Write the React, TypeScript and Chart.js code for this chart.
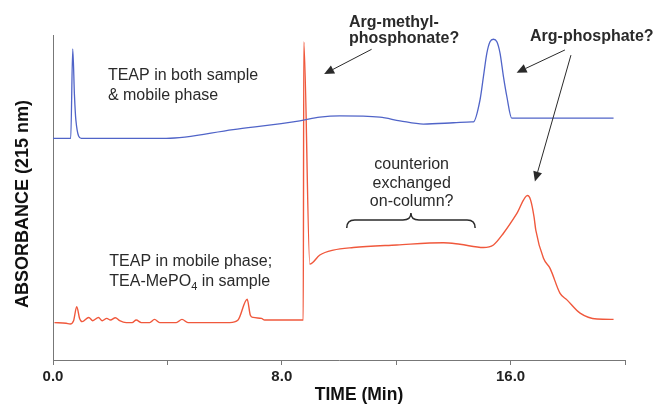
import { useEffect, useRef } from "react";
import { Chart, registerables } from "chart.js";

Chart.register(...registerables);

// Retention time (min) and absorbance (arbitrary units) for each chromatogram trace
const bothTime = [
  0, 0.62, 0.69, 0.75, 0.8, 0.99, 3.96, 6.3, 8.63, 9.33, 10.03, 11.43, 12.13, 12.95, 14.0,
  14.64, 14.7, 14.93, 15.05, 15.17, 15.28, 15.4, 15.52, 15.63, 15.75, 15.87, 16.04, 19.6,
];
const bothAbs = [
  68.2, 68.2, 95.7, 81.5, 73.8, 68.2, 68.2, 70.9, 73.6, 74.7, 75.1, 74.7, 73.6, 72.6, 73.0,
  73.3, 73.3, 80.0, 87.2, 94.4, 97.9, 98.7, 97.9, 94.4, 87.2, 81.0, 74.4, 74.4,
];

const mobileTime = [
  0.05, 0.46, 0.6, 0.72, 0.83, 0.93, 1.02, 1.25, 1.39, 1.59, 1.72, 1.88, 2.01, 2.18, 2.33,
  2.56, 2.77, 2.91, 3.09, 3.38, 3.55, 3.73, 4.31, 4.51, 4.72, 6.18, 6.47, 6.79, 6.9, 7.0,
  7.29, 7.4, 8.75, 8.77, 8.98, 9.33, 9.8, 10.5, 12.02, 13.65, 14.23, 15.05, 15.4, 15.75,
  16.22, 16.59, 16.7, 16.82, 16.88, 17.15, 17.38, 17.73, 17.97, 18.43, 19.02, 19.6,
];
const mobileAbs = [
  11.5, 11.3, 11.1, 12.1, 16.4, 12.8, 11.8, 13.1, 12.1, 13.1, 12.1, 12.8, 12.3, 13.0, 12.1,
  11.5, 11.5, 12.3, 11.5, 11.5, 12.5, 11.5, 11.5, 12.5, 11.5, 11.5, 12.3, 18.7, 13.8, 13.1,
  12.8, 12.3, 12.3, 97.9, 29.5, 32.3, 33.8, 34.6, 35.4, 36.1, 35.6, 34.6, 35.4, 39.0,
  45.1, 50.6, 49.2, 44.0, 40.0, 31.3, 28.2, 20.5, 18.5, 14.4, 12.6, 12.5,
];

const xTickValues = [0, 4, 8, 12, 16, 20];
const xTickLabels = ["0.0", "", "8.0", "", "16.0", ""];

const FONT = "'Liberation Sans', Arial, Helvetica, sans-serif";
const INK = "#222";

type Pt = { t: number; a: number };

// Annotation anchors, in (time, absorbance) units
const noteBoth = { at: { t: 1.92, a: 87.4 }, lines: ["TEAP in both sample", "& mobile phase"] };
const noteMobile = { at: { t: 1.97, a: 30.2 } };
const noteExchange = { at: { t: 12.54, a: 60.0 }, lines: ["counterion", "exchanged", "on-column?"] };
const braceSpan = { from: 10.27, to: 14.76, a: 43.1 };
const noteMethyl = { at: { t: 10.35, a: 103.8 }, lines: ["Arg-methyl-", "phosphonate?"] };
const notePhosphate = { at: { t: 16.68, a: 99.5 }, text: "Arg-phosphate?" };
const arrows: { from: Pt; to: Pt }[] = [
  { from: { t: 11.14, a: 95.6 }, to: { t: 9.48, a: 88.0 } },
  { from: { t: 17.9, a: 95.4 }, to: { t: 16.21, a: 88.4 } },
  { from: { t: 18.11, a: 93.8 }, to: { t: 16.85, a: 54.9 } },
];

const annotationPlugin = {
  id: "chromNotes",
  afterDraw(chart: any) {
    const { ctx } = chart;
    const xs = chart.scales.x;
    const ys = chart.scales.y;
    const px = (p: Pt) => [xs.getPixelForValue(p.t), ys.getPixelForValue(p.a)];

    ctx.save();
    ctx.fillStyle = "#2a2a2a";
    ctx.strokeStyle = "#2a2a2a";
    ctx.textBaseline = "middle";

    // regular notes
    ctx.font = `16px ${FONT}`;
    ctx.textAlign = "left";
    let [x, y] = px(noteBoth.at);
    noteBoth.lines.forEach((l, i) => ctx.fillText(l, x, y + i * 19.7));

    [x, y] = px(noteMobile.at);
    ctx.fillText("TEAP in mobile phase;", x, y);
    const y2 = y + 20;
    const head = "TEA-MePO";
    ctx.fillText(head, x, y2);
    let cx = x + ctx.measureText(head).width;
    ctx.font = `11px ${FONT}`;
    ctx.fillText("4", cx, y2 + 5);
    cx += ctx.measureText("4").width;
    ctx.font = `16px ${FONT}`;
    ctx.fillText(" in sample", cx, y2);

    ctx.textAlign = "center";
    [x, y] = px(noteExchange.at);
    noteExchange.lines.forEach((l, i) => ctx.fillText(l, x, y + i * 18.3));

    // curly brace over the plateau
    const bx1 = xs.getPixelForValue(braceSpan.from);
    const bx2 = xs.getPixelForValue(braceSpan.to);
    const by = ys.getPixelForValue(braceSpan.a);
    const bm = (bx1 + bx2) / 2;
    ctx.lineWidth = 1.5;
    ctx.beginPath();
    ctx.moveTo(bx1, by + 8);
    ctx.quadraticCurveTo(bx1, by, bx1 + 8, by);
    ctx.lineTo(bm - 8, by);
    ctx.quadraticCurveTo(bm, by, bm, by - 7);
    ctx.quadraticCurveTo(bm, by, bm + 8, by);
    ctx.lineTo(bx2 - 8, by);
    ctx.quadraticCurveTo(bx2, by, bx2, by + 8);
    ctx.stroke();

    // bold peak labels
    ctx.font = `bold 16px ${FONT}`;
    ctx.textAlign = "left";
    [x, y] = px(noteMethyl.at);
    noteMethyl.lines.forEach((l, i) => ctx.fillText(l, x, y + i * 16.3));
    [x, y] = px(notePhosphate.at);
    ctx.fillText(notePhosphate.text, x, y);

    // arrows
    ctx.lineWidth = 1;
    arrows.forEach(({ from, to }) => {
      const [x1, y1] = px(from);
      const [x2, y2b] = px(to);
      const ang = Math.atan2(y2b - y1, x2 - x1);
      const len = 10;
      const hw = 4.5;
      const bxp = x2 - len * Math.cos(ang);
      const byp = y2b - len * Math.sin(ang);
      ctx.beginPath();
      ctx.moveTo(x1, y1);
      ctx.lineTo(bxp, byp);
      ctx.stroke();
      ctx.beginPath();
      ctx.moveTo(x2, y2b);
      ctx.lineTo(bxp + hw * Math.sin(ang), byp - hw * Math.cos(ang));
      ctx.lineTo(bxp - hw * Math.sin(ang), byp + hw * Math.cos(ang));
      ctx.closePath();
      ctx.fill();
    });

    // axis titles
    ctx.fillStyle = "#111";
    ctx.textAlign = "center";
    ctx.font = `bold 17.5px ${FONT}`;
    ctx.fillText("TIME (Min)", 359, 395);
    ctx.save();
    ctx.translate(23, 204);
    ctx.rotate(-Math.PI / 2);
    ctx.font = `bold 18px ${FONT}`;
    ctx.fillText("ABSORBANCE (215 nm)", 0, 0);
    ctx.restore();

    ctx.restore();
  },
};

export default function App() {
  const canvasRef = useRef<HTMLCanvasElement | null>(null);

  useEffect(() => {
    const canvas = canvasRef.current;
    if (!canvas) return;
    const chart = new Chart(canvas, {
      type: "line",
      data: {
        datasets: [
          {
            label: "TEAP in both sample & mobile phase",
            data: bothTime.map((t, i) => ({ x: t, y: bothAbs[i] })),
            borderColor: "#5064c8",
            borderWidth: 1.3,
            pointRadius: 0,
            cubicInterpolationMode: "monotone",
          },
          {
            label: "TEAP in mobile phase; TEA-MePO4 in sample",
            data: mobileTime.map((t, i) => ({ x: t, y: mobileAbs[i] })),
            borderColor: "#f0583c",
            borderWidth: 1.4,
            pointRadius: 0,
            cubicInterpolationMode: "monotone",
          },
        ],
      },
      options: {
        responsive: false,
        animation: false,
        events: [],
        layout: { padding: { top: 35, right: 30, left: 0, bottom: 0 } },
        plugins: { legend: { display: false }, tooltip: { enabled: false }, title: { display: false } },
        scales: {
          x: {
            type: "linear",
            min: 0,
            max: 20,
            afterFit: (s: any) => {
              s.height = 46;
            },
            afterBuildTicks: (s: any) => {
              s.ticks = xTickValues.map((v) => ({ value: v }));
            },
            ticks: {
              autoSkip: false,
              maxRotation: 0,
              padding: 3,
              color: INK,
              font: { family: FONT, size: 15, weight: "bold" },
              callback: (v: any) => {
                const i = xTickValues.indexOf(Number(v));
                return i >= 0 ? xTickLabels[i] : "";
              },
            },
            grid: { drawOnChartArea: false, drawTicks: true, tickLength: 5, color: "#777", lineWidth: 1 },
            border: { display: true, color: "#777", width: 1 },
          },
          y: {
            type: "linear",
            min: 0,
            max: 100,
            afterFit: (s: any) => {
              s.width = 53;
            },
            ticks: { display: false },
            grid: { drawOnChartArea: false, drawTicks: false },
            border: { display: true, color: "#777", width: 1 },
          },
        },
      },
      plugins: [annotationPlugin],
    } as any);
    return () => chart.destroy();
  }, []);

  return (
    <div style={{ position: "fixed", left: 0, top: 0, width: 655, height: 406, background: "#fff" }}>
      <canvas ref={canvasRef} width={655} height={406} />
    </div>
  );
}
